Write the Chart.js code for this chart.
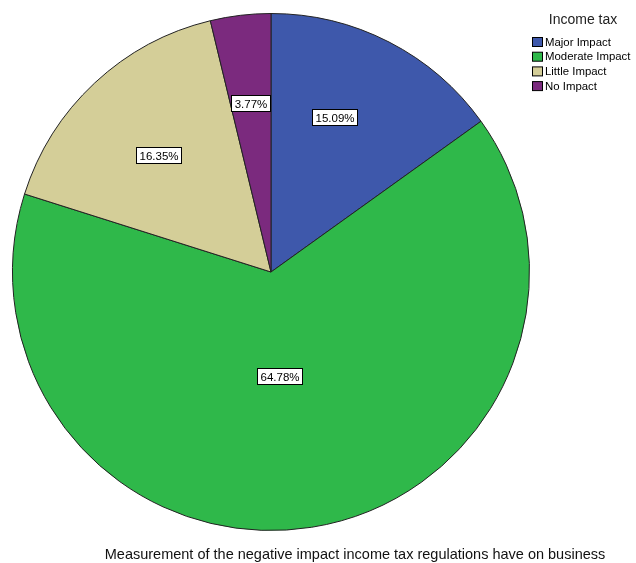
<!DOCTYPE html>
<html>
<head>
<meta charset="utf-8">
<script src="https://cdn.jsdelivr.net/npm/chart.js@4.4.1/dist/chart.umd.min.js"></script>
<style>
    html, body { margin: 0; padding: 0; background: #fff; }
    #wrap { position: relative; width: 636px; height: 563px; }
</style>
</head>
<body>
<div id="wrap"><canvas id="pieChart" width="636" height="563"></canvas></div>
<script>
const categories = ['Major Impact', 'Moderate Impact', 'Little Impact', 'No Impact'];
const percentValues = [15.09, 64.78, 16.35, 3.77];
const sliceColors = ['#3e58ab', '#2fb84a', '#d4ce98', '#7b2a7e'];
const legendTitle = 'Income tax';
const chartCaption = 'Measurement of the negative impact income tax regulations have on business';

// where each percent label sits: fraction of radius, and fraction along the slice
const labelRadius = [0.647, 0.403, 0.628, 0.657];
const labelSweep = [0.41, 0.518, 0.484, 0.48];

const sliceLabels = {
    id: 'sliceLabels',
    afterDatasetsDraw(chart) {
        const ctx = chart.ctx;
        const meta = chart.getDatasetMeta(0);
        ctx.save();
        ctx.font = '11.5px "Liberation Sans", Arial, sans-serif';
        ctx.textAlign = 'center';
        ctx.textBaseline = 'middle';
        meta.data.forEach((arc, i) => {
            const ang = arc.startAngle + (arc.endAngle - arc.startAngle) * labelSweep[i];
            const r = arc.outerRadius * labelRadius[i];
            const x = arc.x + Math.cos(ang) * r;
            const y = arc.y + Math.sin(ang) * r;
            const text = percentValues[i].toFixed(2) + '%';
            const w = Math.round(ctx.measureText(text).width + 6);
            const h = 16;
            const bx = Math.round(x - w / 2) + 0.5;
            const by = Math.round(y - h / 2) + 0.5;
            ctx.fillStyle = '#fff';
            ctx.fillRect(bx, by, w, h);
            ctx.strokeStyle = '#000';
            ctx.lineWidth = 1;
            ctx.strokeRect(bx, by, w, h);
            ctx.fillStyle = '#000';
            ctx.fillText(text, bx + w / 2, by + h / 2 + 1);
        });
        ctx.restore();
    }
};

const sideTexts = {
    id: 'sideTexts',
    afterDraw(chart) {
        const ctx = chart.ctx;
        ctx.save();
        ctx.fillStyle = '#222';
        ctx.textBaseline = 'middle';
        ctx.textAlign = 'center';
        ctx.font = '14px "Liberation Sans", Arial, sans-serif';
        ctx.fillText(legendTitle, 583, 20);

        ctx.textAlign = 'left';
        ctx.font = '11.4px "Liberation Sans", Arial, sans-serif';
        categories.forEach((name, i) => {
            const y = 42 + i * 14.7;
            ctx.fillStyle = sliceColors[i];
            ctx.fillRect(532.5, y - 4.5, 10, 9);
            ctx.strokeStyle = '#000';
            ctx.strokeRect(532.5, y - 4.5, 10, 9);
            ctx.fillStyle = '#000';
            ctx.fillText(name, 545, y + 0.5);
        });

        ctx.textAlign = 'center';
        ctx.font = '14.5px "Liberation Sans", Arial, sans-serif';
        ctx.fillStyle = '#111';
        ctx.fillText(chartCaption, 355, 555);
        ctx.restore();
    }
};

new Chart(document.getElementById('pieChart'), {
    type: 'pie',
    data: {
        labels: categories,
        datasets: [{
            data: percentValues,
            backgroundColor: sliceColors,
            borderColor: '#222',
            borderWidth: 1,
        }],
    },
    options: {
        responsive: false,
        animation: false,
        layout: {
            padding: { left: 12, top: 13, right: 106, bottom: 32 },
        },
        plugins: {
            legend: { display: false },
            tooltip: { enabled: false },
        },
    },
    plugins: [sliceLabels, sideTexts],
});
</script>
</body>
</html>
